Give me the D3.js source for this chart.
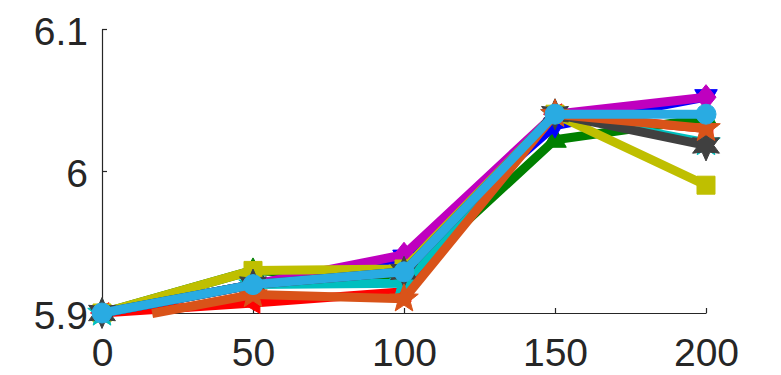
<!DOCTYPE html>
<html>
<head>
<meta charset="utf-8">
<script src="https://cdn.jsdelivr.net/npm/d3@7"></script>
<style>
  html, body { margin: 0; padding: 0; background: #fff; }
  .chart { width: 781px; height: 375px; }
</style>
</head>
<body>
<div class="chart"></div>
<script>
// 데이터
const xValues = [0, 50, 100, 150, 200];
const xTicks = [0, 50, 100, 150, 200];
const yTicks = [5.9, 6, 6.1];
const yTickLabels = ['5.9', '6', '6.1'];

const redSeries = [5.90, 5.907, 5.915, 6.04, 6.03];
const greenSeries = [5.90, 5.93, 5.924, 6.022, 6.037];
const blueSeries = [5.90, 5.92, 5.939, 6.032, 6.052];
const magentaSeries = [5.90, 5.92, 5.941, 6.04, 6.052];
const yellowSeries = [5.90, 5.93, 5.931, 6.04, 5.99];
const cyanSeries = [5.90, 5.92, 5.921, 6.04, 6.02];
const graySeries = [5.90, 5.92, 5.929, 6.04, 6.018];
const orangeSeries = [5.893, 5.913, 5.91, 6.04, 6.03];
const lightBlueSeries = [5.90, 5.92, 5.929, 6.04, 6.04];

// n개의 꼭짓점을 가진 별 모양 심볼
function starSymbol(n, ratio) {
  return {
    draw(context, size) {
      const r = Math.sqrt(size) / 2;
      for (let i = 0; i < 2 * n; i++) {
        const a = -Math.PI / 2 + i * Math.PI / n;
        const rr = i % 2 === 0 ? r : r * ratio;
        if (i === 0) context.moveTo(rr * Math.cos(a), rr * Math.sin(a));
        else context.lineTo(rr * Math.cos(a), rr * Math.sin(a));
      }
      context.closePath();
    }
  };
}

// 방향이 있는 삼각형 심볼
function triangleSymbol(dir) {
  return {
    draw(context, size) {
      const r = Math.sqrt(size) / 2;
      const pts = [[0, -r], [r * 0.9, r * 0.6], [-r * 0.9, r * 0.6]];
      const rot = {up: 0, down: Math.PI, left: -Math.PI / 2}[dir];
      pts.forEach(([px, py], i) => {
        const x = px * Math.cos(rot) - py * Math.sin(rot);
        const y = px * Math.sin(rot) + py * Math.cos(rot);
        if (i === 0) context.moveTo(x, y); else context.lineTo(x, y);
      });
      context.closePath();
    }
  };
}

const diamondSymbol = {
  draw(context, size) {
    const r = Math.sqrt(size) / 2;
    context.moveTo(0, -r);
    context.lineTo(r * 0.8, 0);
    context.lineTo(0, r);
    context.lineTo(-r * 0.8, 0);
    context.closePath();
  }
};

const squareSymbol = {
  draw(context, size) {
    const r = Math.sqrt(size) / 2;
    context.rect(-r, -r, 2 * r, 2 * r);
  }
};

const circleSymbol = {
  draw(context, size) {
    const r = Math.sqrt(size) / 2;
    context.moveTo(r, 0);
    context.arc(0, 0, r, 0, 2 * Math.PI);
  }
};

// 그리는 순서대로 (마지막이 맨 위)
const series = [
  {values: redSeries, color: '#FF0000', symbol: triangleSymbol('left'), size: 23},
  {values: greenSeries, color: '#008000', symbol: triangleSymbol('up'), size: 25},
  {values: blueSeries, color: '#0000FF', symbol: triangleSymbol('down'), size: 25},
  {values: magentaSeries, color: '#BF00BF', symbol: diamondSymbol, size: 25},
  {values: yellowSeries, color: '#BFBF00', symbol: squareSymbol, size: 18},
  {values: cyanSeries, color: '#00BFBF', symbol: starSymbol(5, 0.42), size: 30},
  {values: graySeries, color: '#404040', symbol: starSymbol(6, 0.5), size: 31},
  {values: orangeSeries, color: '#D95319', symbol: starSymbol(5, 0.42), size: 30},
  {values: lightBlueSeries, color: '#29ABE2', symbol: circleSymbol, size: 20}
];

const OuterWidth = 781;
const OuterHeight = 375;
const Margin = {top: 29, bottom: 62, left: 102, right: 75};

const svg = d3.select('.chart')
  .append('svg')
  .attr('width', OuterWidth)
  .attr('height', OuterHeight);

const x = d3.scaleLinear()
  .domain([0, 200])
  .range([Margin.left, OuterWidth - Margin.right]);

const y = d3.scaleLinear()
  .domain([5.9, 6.1])
  .range([OuterHeight - Margin.bottom, Margin.top]);

const axisColor = '#262626';
const font = '"Liberation Sans", Arial, Helvetica, sans-serif';

// x축
const xAxisG = svg.append('g')
  .attr('transform', `translate(0, ${y(5.9)})`)
  .call(d3.axisBottom(x).tickValues(xTicks).tickSizeInner(-5).tickSizeOuter(0).tickPadding(25).tickFormat(d3.format('d')));

// y축
const yAxisG = svg.append('g')
  .attr('transform', `translate(${x(0)}, 0)`)
  .call(d3.axisLeft(y).tickValues(yTicks).tickSizeInner(-5).tickSizeOuter(0).tickPadding(14)
    .tickFormat((d, i) => yTickLabels[i]));

[xAxisG, yAxisG].forEach(g => {
  g.select('.domain').attr('stroke', axisColor).attr('stroke-width', 1.2);
  g.selectAll('.tick line').attr('stroke', axisColor).attr('stroke-width', 1.2);
  g.selectAll('.tick text')
    .attr('fill', axisColor)
    .style('font-family', font)
    .style('font-size', '39px');
});
yAxisG.selectAll('.tick text').attr('dy', '0.4em');
xAxisG.selectAll('.tick text').attr('dy', '0.72em');

// 축 영역 밖의 선은 잘라냄 (선 굵기는 유지)
const [x0, x1] = x.range();
const [y1, y0] = y.range();
const clipPath = d3.geoPath(d3.geoIdentity().clipExtent([[x0, y0], [x1, y1 + 0.5]]));

const plot = svg.append('g');

series.forEach(s => {
  const g = plot.append('g');
  const coords = s.values.map((d, i) => [x(xValues[i]), y(d)]);
  g.append('path')
    .datum({type: 'LineString', coordinates: coords})
    .attr('d', clipPath)
    .attr('fill', 'none')
    .attr('stroke', s.color)
    .attr('stroke-width', 9)
    .attr('stroke-linejoin', 'round');

  // 축 범위 안의 점만 마커 표시
  g.selectAll('path.marker')
    .data(s.values.map((d, i) => ({x: xValues[i], y: d})).filter(d => d.y >= 5.9 && d.y <= 6.1))
    .join('path')
      .attr('class', 'marker')
      .attr('transform', d => `translate(${x(d.x)}, ${y(d.y)})`)
      .attr('d', d3.symbol(s.symbol, s.size * s.size))
      .attr('fill', s.color)
      .attr('stroke', s.color)
      .attr('stroke-width', 1);
});
</script>
</body>
</html>
